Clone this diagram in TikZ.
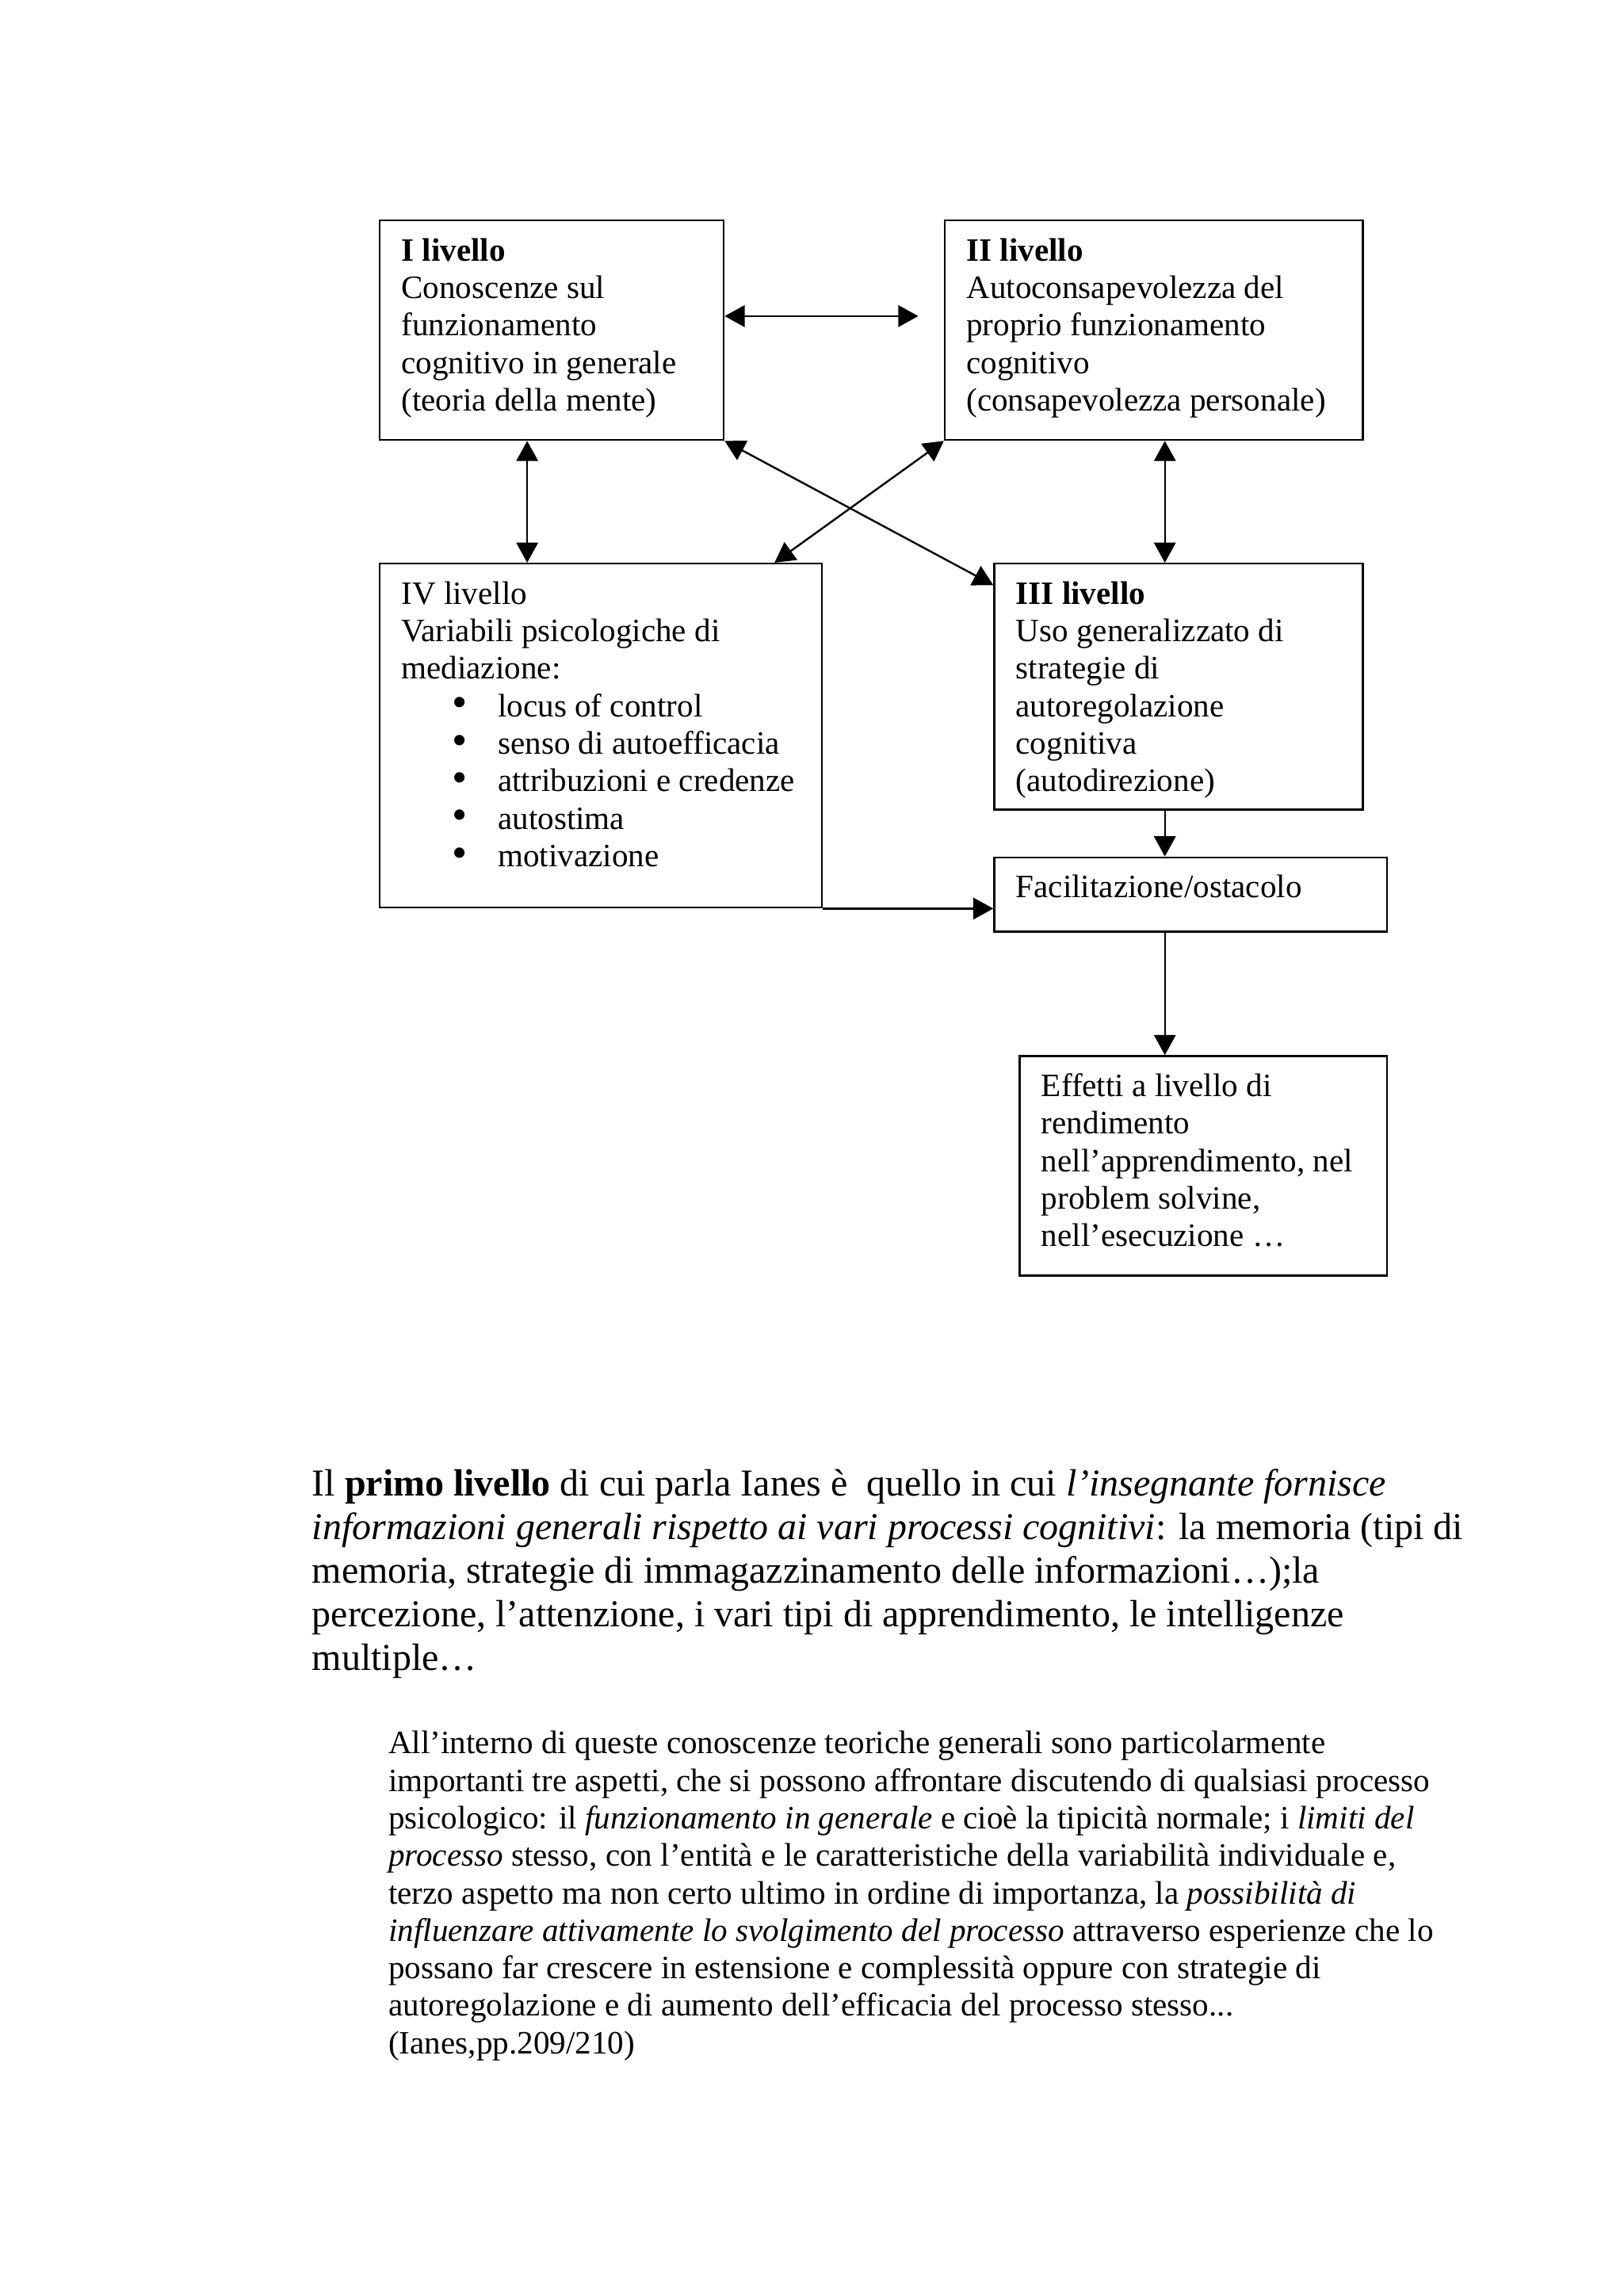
\documentclass[tikz,border=0pt]{standalone}
\usepackage{fontspec}
\setmainfont{Liberation Serif}
\usetikzlibrary{arrows.meta}

\newcommand{\boxtxt}[3]{\parbox[c][#1][t]{#2}{\raggedright\rule{0pt}{14.9pt}#3}}
\newcommand{\blt}{\hspace*{0.66cm}\makebox[0.59cm][l]{\raisebox{-0.2pt}{\fontsize{16}{13.8}\selectfont\textbullet}}}

\begin{document}
\begin{tikzpicture}[line join=miter,>={Triangle[length=0.26cm,width=0.28cm]},x=1cm,y=1cm,
lev/.style={draw,line width=0.7pt,inner xsep=0.28cm,inner ysep=0pt,anchor=north west,font=\fontsize{12}{13.8}\selectfont},
conn/.style={line width=0.7pt}]

\fill[white] (0,0) rectangle (21,-29.705);
\useasboundingbox (0,0) rectangle (21,-29.705);

\node[lev] (lev1) at (4.90,-2.84) {\boxtxt{2.84cm}{3.89cm}{\textbf{I livello}\\Conoscenze sul\\funzionamento\\cognitivo in generale\\(teoria della mente)}};
\node[lev] (lev2) at (12.21,-2.84) {\boxtxt{2.84cm}{4.85cm}{\textbf{II livello}\\Autoconsapevolezza del\\proprio funzionamento\\cognitivo\\(consapevolezza personale)}};
\node[lev] (lev4) at (4.90,-7.28) {\boxtxt{4.45cm}{5.16cm}{IV livello\\Variabili psicologiche di\\mediazione:\\\blt locus of control\\\blt senso di autoefficacia\\\blt attribuzioni e credenze\\\blt autostima\\\blt motivazione}};
\node[lev] (lev3) at (12.85,-7.28) {\boxtxt{3.18cm}{4.21cm}{\textbf{III livello}\\Uso generalizzato di\\strategie di\\autoregolazione\\cognitiva\\(autodirezione)}};
\node[lev] (fac) at (12.85,-11.08) {\boxtxt{0.96cm}{4.52cm}{Facilitazione/ostacolo}};
\node[lev] (eff) at (13.18,-13.65) {\boxtxt{2.84cm}{4.19cm}{Effetti a livello di\\rendimento\\nell’apprendimento, nel\\problem solvine,\\nell’esecuzione …}};

\coordinate (tipII) at (11.88,-4.09);
\coordinate (xl) at (6.82,0);
\coordinate (xr) at (15.07,0);
\coordinate (xd) at (10.02,0);

\draw[conn,<->] (lev1.east |- tipII) -- (tipII);
\draw[conn,<->] (lev1.south -| xl) -- (lev4.north -| xl);
\draw[conn,<->] (lev2.south -| xr) -- (lev3.north -| xr);
\draw[conn,<->] (lev1.south east) -- ([yshift=-0.29cm]lev3.north west);
\draw[conn,<->] (lev2.south west) -- (lev4.north -| xd);
\draw[conn,->] (lev3.south -| xr) -- (fac.north -| xr);
\draw[conn,->] (lev4.south east) -- (lev4.south east -| fac.west);
\draw[conn,->] (fac.south -| xr) -- (eff.north -| xr);

\node[anchor=base west,inner sep=0pt,font=\fontsize{14}{16.1}\selectfont] (para) at (4.03,-19.35) {\parbox[t]{16cm}{\raggedright
Il \textbf{primo livello} di cui parla Ianes è\ \ quello in cui \textit{l’insegnante fornisce}\\
\textit{informazioni generali rispetto ai vari processi cognitivi}: la memoria (tipi di\\
memoria, strategie di immagazzinamento delle informazioni…);la\\
percezione, l’attenzione, i vari tipi di apprendimento, le intelligenze\\
multiple…}};

\node[anchor=base west,inner sep=0pt,font=\fontsize{12}{13.8}\selectfont] (quote) at (5.02,-22.69) {\parbox[t]{15cm}{\raggedright
All’interno di queste conoscenze teoriche generali sono particolarmente\\
importanti tre aspetti, che si possono affrontare discutendo di qualsiasi processo\\
psicologico: il \textit{funzionamento in generale} e cioè la tipicità normale; i \textit{limiti del}\\
\textit{processo} stesso, con l’entità e le caratteristiche della variabilità individuale e,\\
terzo aspetto ma non certo ultimo in ordine di importanza, la \textit{possibilità di}\\
\textit{influenzare attivamente lo svolgimento del processo} attraverso esperienze che lo\\
possano far crescere in estensione e complessità oppure con strategie di\\
autoregolazione e di aumento dell’efficacia del processo stesso...\\
(Ianes,pp.209/210)}};
\end{tikzpicture}
\end{document}
